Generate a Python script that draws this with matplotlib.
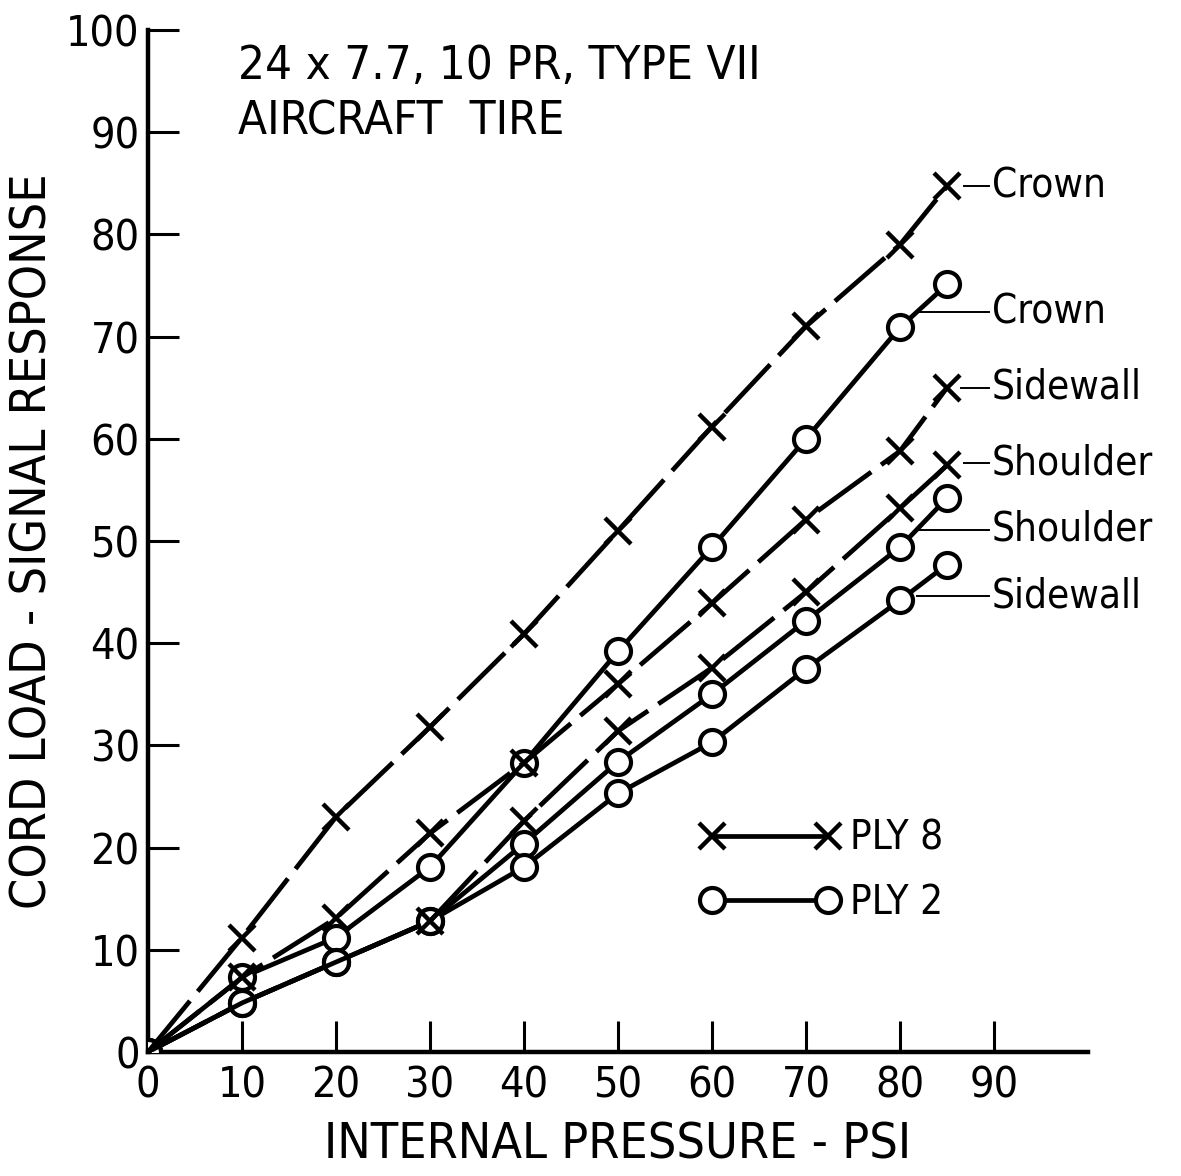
import matplotlib.pyplot as plt
from matplotlib.lines import Line2D

# pressure steps (psi)
pressure = [0, 10, 20, 30, 40, 50, 60, 70, 80, 85]

# ply 8 (x markers, dashed)
ply8_crown = [0, 11.2, 23.0, 31.8, 40.9, 51.0, 61.2, 71.0, 79.0, 84.7]
ply8_sidewall = [0, 7.3, 13.1, 21.4, 28.3, 36.0, 43.9, 52.1, 58.8, 65.0]
ply8_shoulder = [0, 4.8, 8.8, 12.8, 22.6, 31.4, 37.6, 45.0, 53.2, 57.4]

# ply 2 (o markers, solid)
ply2_crown = [0, 7.3, 11.2, 18.1, 28.3, 39.2, 49.4, 60.0, 70.9, 75.1]
ply2_shoulder = [0, 4.8, 8.8, 12.8, 20.4, 28.4, 35.0, 42.2, 49.4, 54.2]
ply2_sidewall = [0, 4.8, 8.8, 12.8, 18.1, 25.3, 30.3, 37.5, 44.2, 47.7]

# curve labels: (text, leader start x, leader start y, text y)
labels = [
    ("Crown", 86.8, 84.7, 84.7),
    ("Crown", 82.1, 72.4, 72.4),
    ("Sidewall", 86.5, 65.0, 65.0),
    ("Shoulder", 86.8, 57.6, 57.6),
    ("Shoulder", 82.1, 51.1, 51.1),
    ("Sidewall", 81.8, 44.6, 44.6),
]

xticks = list(range(0, 100, 10))
yticks = list(range(0, 110, 10))

FONT = dict(family="DejaVu Sans", stretch="condensed")
LW = 3.4
ply8_style = dict(color="black", lw=LW, marker="x", ms=19, mew=3.2,
                  dashes=(14, 2.6), zorder=4)
ply2_style = dict(color="black", lw=LW, marker="o", ms=18, mew=3.0,
                  mfc="white", zorder=3)

fig = plt.figure(figsize=(11.81, 11.76), dpi=100)
ax = fig.add_axes([148 / 1181, 1 - 1052 / 1176, 940 / 1181, 1022 / 1176])

ax.plot(pressure, ply2_crown, **ply2_style)
ax.plot(pressure, ply2_shoulder, **ply2_style)
ax.plot(pressure, ply2_sidewall, **ply2_style)

ax.plot(pressure, ply8_crown, **ply8_style)
ax.plot(pressure, ply8_sidewall, **ply8_style)
# markers at 10 and 20 psi hidden under the ply 2 circles in the original
ax.plot(pressure, ply8_shoulder, **ply8_style, markevery=list(range(3, 10)))

for text, lx, ly, ty in labels:
    ax.plot([lx, 89.5], [ly, ty], color="black", lw=1.4, zorder=2)
    ax.text(89.8, ty, text, fontsize=29, va="center", ha="left", **FONT)

ax.text(9.6, 96.4, "24 x 7.7, 10 PR, TYPE VII", fontsize=34, va="center", **FONT)
ax.text(9.6, 91.0, "AIRCRAFT  TIRE", fontsize=34, va="center", **FONT)

ax.set_xlim(0, 100)
ax.set_ylim(0, 100)
ax.set_xticks(xticks)
ax.set_yticks(yticks)
ax.tick_params(direction="in", length=22, width=2.2, pad=9, labelsize=31)
ax.tick_params(axis="y", pad=6)
for lab in ax.get_xticklabels() + ax.get_yticklabels():
    lab.set_fontfamily(FONT["family"])
    lab.set_fontstretch(FONT["stretch"])

ax.spines["top"].set_visible(False)
ax.spines["right"].set_visible(False)
ax.spines["left"].set_linewidth(3.2)
ax.spines["bottom"].set_linewidth(3.2)

ax.set_xlabel("INTERNAL PRESSURE - PSI", fontsize=36, labelpad=10, **FONT)
ax.set_ylabel("CORD LOAD - SIGNAL RESPONSE", fontsize=36, labelpad=7, **FONT)

handles = [
    Line2D([], [], color="black", lw=LW, marker="x", ms=19, mew=3.2),
    Line2D([], [], color="black", lw=LW, marker="o", ms=18, mew=3.0, mfc="white"),
]
ax.legend(handles, ["PLY 8", "PLY 2"], loc="upper left",
          bbox_to_anchor=(0.566, 0.248), frameon=False, numpoints=2,
          handlelength=3.47, handletextpad=0.25, labelspacing=0.6,
          borderpad=0, prop=dict(size=29, **FONT))

fig.savefig("out.png", dpi=100)
